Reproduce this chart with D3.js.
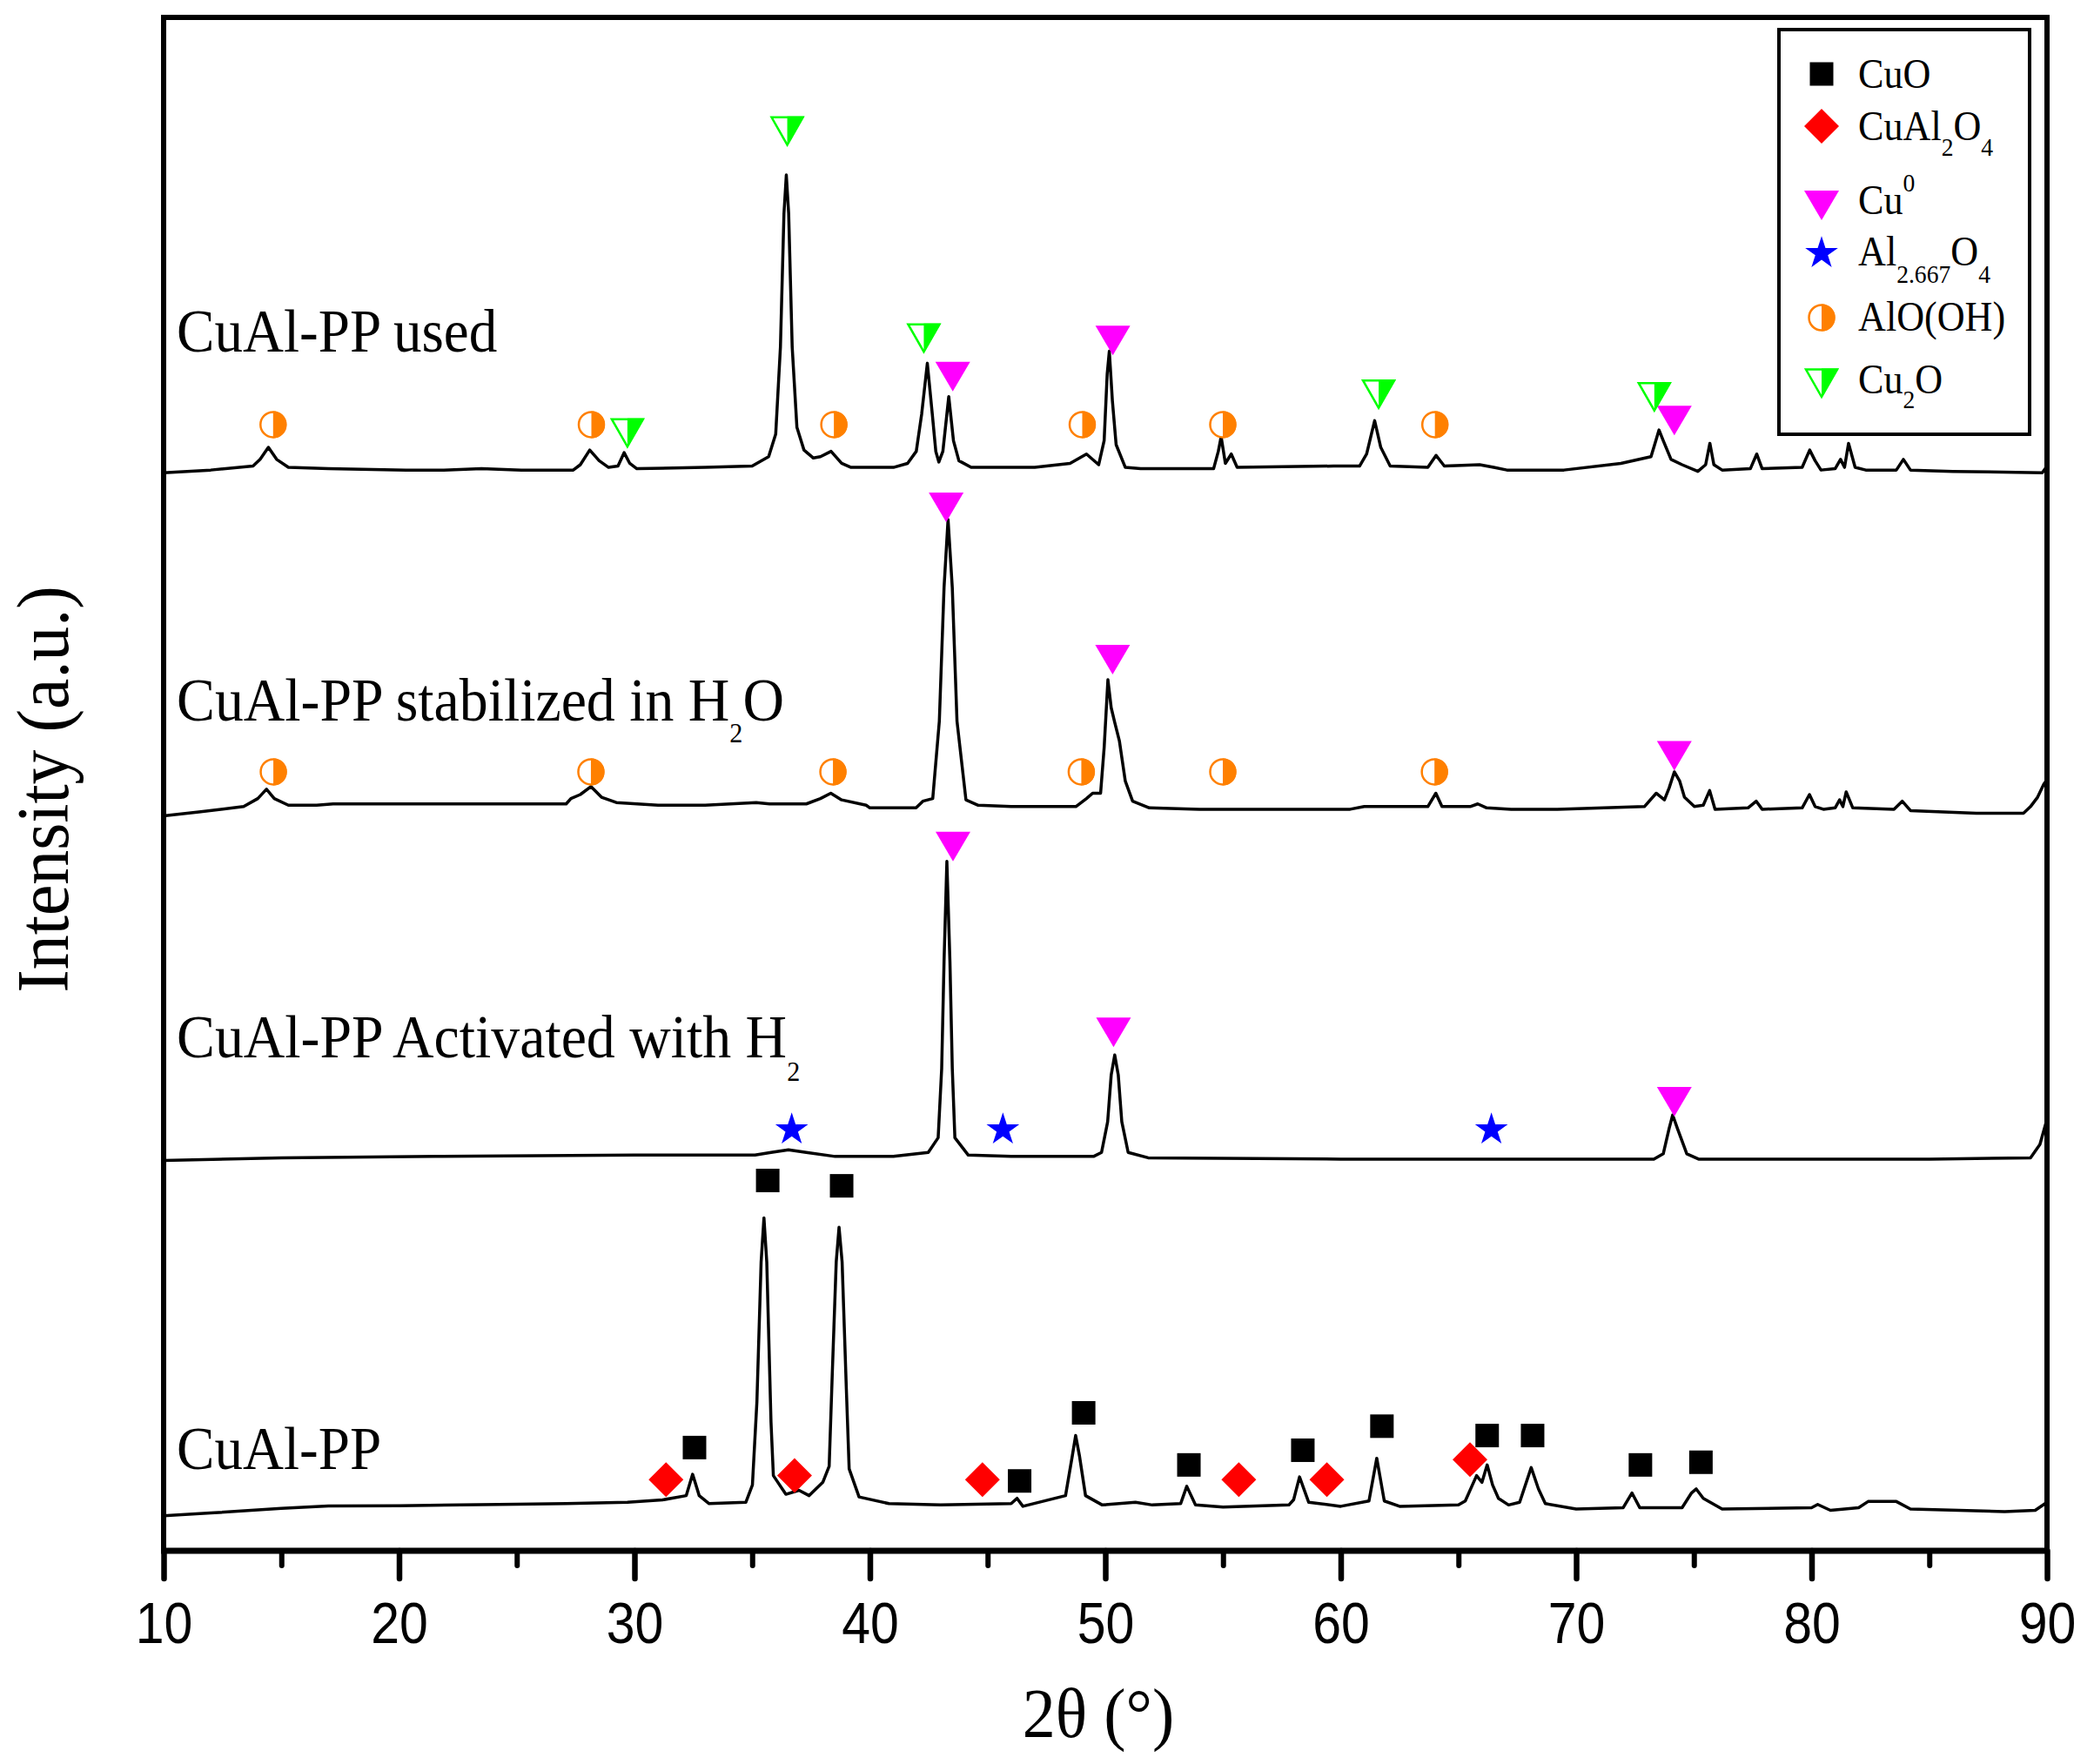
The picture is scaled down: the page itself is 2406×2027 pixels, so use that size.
<!DOCTYPE html>
<html>
<head>
<meta charset="utf-8">
<script src="https://cdn.jsdelivr.net/npm/d3@7"></script>
<style>
  body { margin: 0; background: #fff; }
</style>
</head>
<body>
<div id="chart"></div>
<script>
// ---- Data (2theta in degrees, intensity in a.u., curves already stacked) ----
const xTicks = [10, 20, 30, 40, 50, 60, 70, 80, 90]
const xMinorTicks = [15, 25, 35, 45, 55, 65, 75, 85]

const usedCurve = [
  [10.0,806],[12.0,808],[13.8,811],[14.1,816],[14.45,825],[14.8,816],[15.3,810],[17,809],[20.3,808],[21.9,808],
  [23.5,809],[25.2,808],[27.4,808],[27.7,812],[28.1,823],[28.5,815],[28.9,810],[29.3,811],[29.56,821],[29.8,813],
  [30.1,809],[33,810],[35.0,811],[35.7,818],[36.0,835],[36.2,900],[36.35,1000],[36.45,1029],[36.55,1000],[36.7,900],
  [36.9,840],[37.2,823],[37.6,817],[37.9,818],[38.35,822],[38.8,813],[39.2,810],[41.0,810],[41.6,813],[41.97,822],
  [42.2,850],[42.44,888],[42.65,850],[42.8,822],[42.93,814],[43.1,822],[43.35,863],[43.55,830],[43.78,815],[44.3,810],
  [47,810],[48.5,813],[49.2,820],[49.72,812],[49.95,830],[50.08,880],[50.17,897],[50.3,860],[50.46,827],[50.85,810],
  [51.5,809],[54.6,809],[54.8,822],[54.92,833],[55.1,813],[55.35,820],[55.6,810],[59.7,811],[60.8,811],[61.1,820],
  [61.44,845],[61.7,825],[62.1,811],[63.7,810],[64.05,819],[64.4,811],[65.9,812],[66.5,810],[67.06,808],[69.48,808],
  [71.9,813],[73.18,818],[73.35,828],[73.52,838],[73.7,830],[74.03,816],[74.5,812],[75.17,807],[75.5,812],[75.68,828],
  [75.85,812],[76.2,808],[77.4,809],[77.67,820],[77.9,809],[79.6,810],[79.92,823],[80.15,815],[80.4,808],[81.0,809],
  [81.23,816],[81.4,810],[81.57,828],[81.85,810],[82.3,808],[83.6,808],[83.9,816],[84.2,808],[86,807],[89.8,806],[90,811]
]

const stabilizedCurve = [
  [10.0,549],[11.5,552],[13.4,556],[14.0,562],[14.37,569],[14.7,562],[15.3,557],[16.5,557],[17.2,558],[27.1,558],
  [27.3,562],[27.7,565],[28.15,571],[28.6,563],[29.23,559],[31,557],[33,557],[35.17,559],[35.74,558],[37.3,558],
  [37.9,562],[38.34,566],[38.8,561],[39.84,557],[40.0,555],[41.96,555],[42.25,560],[42.67,562],[42.95,620],[43.15,720],
  [43.32,771],[43.5,720],[43.7,620],[44.08,561],[44.6,557],[46,556],[48.75,556],[49.2,562],[49.46,566],[49.8,566],
  [49.95,600],[50.11,651],[50.25,630],[50.4,619],[50.6,605],[50.85,575],[51.16,560],[51.87,555],[54,554],[57,554],
  [60.4,554],[61,556],[63.7,556],[64.04,566],[64.3,556],[65.5,556],[65.82,558],[66.2,555],[67.24,554],[69.2,554],
  [72.9,556],[73.4,566],[73.75,561],[73.95,570],[74.17,582],[74.4,575],[74.6,563],[75.02,556],[75.4,557],[75.67,568],
  [75.9,554],[77.3,555],[77.65,560],[77.9,554],[79.6,555],[79.91,565],[80.15,556],[80.5,554],[81.0,555],[81.19,561],
  [81.33,556],[81.47,567],[81.75,555],[83.5,554],[83.85,560],[84.2,553],[87,551],[89.0,551],[89.3,556],[89.6,563],
  [89.87,573],[90,576]
]

const activatedCurve = [
  [10,291],[15,293],[21.54,294],[30,295],[35.12,295],[35.8,297],[36.54,299],[37.3,297],[38.52,294],[41,294],
  [42.48,297],[42.9,308],[43.05,360],[43.15,440],[43.27,515],[43.4,440],[43.5,360],[43.61,308],[44.18,295],[46,294],
  [49.5,294],[49.84,297],[50.1,320],[50.25,355],[50.4,370],[50.55,355],[50.7,320],[50.97,297],[51.82,293],[60,292],
  [66,292],[73.3,292],[73.7,296],[73.95,315],[74.1,325],[74.3,315],[74.7,296],[75.2,292],[85,292],[89.3,293],
  [89.7,303],[90,322]
]

const freshCurve = [
  [10,25],[12,27],[15,30.5],[17,32.3],[20,32.5],[25,33.5],[27.1,34],[29.7,35],[31.19,36.8],[32.2,40],
  [32.47,56],[32.75,40],[33.17,34],[34.73,35],[35.01,48],[35.2,110],[35.38,215],[35.5,248],[35.62,215],[35.8,95],
  [35.9,55],[36.43,41],[36.99,44],[37.42,40],[38.0,50],[38.27,62],[38.4,130],[38.57,215],[38.69,241],[38.82,215],
  [39.0,120],[39.12,60],[39.54,39],[40.81,34],[43,33],[46.0,34],[46.25,38],[46.5,32],[48.31,40],[48.6,70],
  [48.74,85],[48.9,70],[49.16,40],[49.87,33],[51.28,35],[52,33],[53.2,34],[53.46,47],[53.83,33],[55,31.5],
  [57.8,33],[58.0,37],[58.25,54],[58.64,35],[60,32],[61.2,36],[61.53,68],[61.85,36],[62.5,32],[65.0,33],
  [65.29,36],[65.77,55],[66.0,50],[66.22,63],[66.45,48],[66.7,38],[67.13,33],[67.6,35],[68.09,61],[68.4,45],
  [68.69,34],[70,30],[72.0,31],[72.37,42],[72.7,31],[74.5,31],[74.9,42],[75.1,45],[75.4,38],[76.2,30],
  [80.0,31],[80.26,33.4],[80.8,29],[82.0,31],[82.4,35.6],[83.6,35.6],[84.2,30],[88.2,28],[89.5,29],[90,35]
]

// phase markers [2theta, intensity]
const cuoMarks = [[32.55,76],[35.66,276],[38.8,272],[46.36,51],[49.08,102],[53.55,63],[58.39,74],[61.75,92],[66.22,85],[68.15,85],[72.73,63],[75.3,65]]
const cuAl2O4Marks = [[31.34,52],[36.8,55],[44.78,52],[55.67,52],[59.41,52],[65.49,67]]
const cu0Marks = [[43.52,878],[50.32,905],[74.17,845],[43.24,780],[50.31,666],[74.17,594],[43.53,526],[50.35,387],[74.17,335]]
const al2667Marks = [[36.68,316],[45.65,316],[66.4,316]]
const aloohMarks = [[14.65,842],[28.17,842],[38.47,842],[49.02,842],[54.99,842],[64.0,842],
                    [14.66,582],[28.15,582],[38.43,582],[48.98,582],[54.99,582],[63.98,582]]
const cu2oMarks = [[29.7,836],[36.49,1062],[42.29,907],[61.61,865],[73.32,863]]

// ---- Canvas ----
const W = 2406, H = 2027
const plot = { left: 188, right: 2352, top: 20, bottom: 1782 }

const svg = d3.select('#chart')
  .append('svg')
  .attr('width', W)
  .attr('height', H)

const xScale = d3.scaleLinear().domain([10, 90]).range([plot.left, plot.right])
const yScale = d3.scaleLinear().domain([0, 1148]).range([1780, 18.4])

const serif = '"Liberation Serif", "Times New Roman", serif'
const sans = '"Liberation Sans", Arial, sans-serif'

// ---- Curves ----
const line = d3.line().x(d => xScale(d[0])).y(d => yScale(d[1]))
const curves = svg.append('g').attr('id', 'curves')
;[usedCurve, stabilizedCurve, activatedCurve, freshCurve].forEach(c => {
  curves.append('path')
    .datum(c)
    .attr('d', line)
    .attr('fill', 'none')
    .attr('stroke', '#000')
    .attr('stroke-width', 3.5)
    .attr('stroke-linejoin', 'round')
})

// ---- Marker shapes ----
const ORANGE = '#ff8000', GREEN = '#00ff00', MAGENTA = '#ff00ff', BLUE = '#0000ff', RED = '#ff0000'

const drawMark = {
  cuo: g => g.append('rect').attr('x', -13.5).attr('y', -13.5).attr('width', 27).attr('height', 27).attr('fill', '#000'),
  cuAl2O4: g => g.append('path').attr('d', 'M0,-20L20,0L0,20L-20,0Z').attr('fill', RED),
  cu0: g => g.append('path').attr('d', 'M-20,-17L20,-17L0,17Z').attr('fill', MAGENTA),
  al2667: g => g.append('path').attr('d', d3.symbol(d3.symbolStar).size(440)()).attr('transform', 'translate(0,3)').attr('fill', BLUE),
  alooh: g => {
    g.append('circle').attr('r', 14.5).attr('fill', '#fff').attr('stroke', ORANGE).attr('stroke-width', 2.5)
    g.append('path').attr('d', 'M0,-15.5A15.5,15.5 0 0,1 0,15.5Z').attr('fill', ORANGE)
  },
  cu2o: g => {
    g.append('path').attr('d', 'M-18,-15.5L18,-15.5L0,16Z').attr('fill', '#fff').attr('stroke', GREEN).attr('stroke-width', 2.5)
    g.append('path').attr('d', 'M0,-16.5L19.5,-16.5L0,16.5Z').attr('fill', GREEN)
  }
}

const marks = svg.append('g').attr('id', 'marks')
const phases = [
  ['cuo', cuoMarks], ['cuAl2O4', cuAl2O4Marks], ['cu0', cu0Marks],
  ['al2667', al2667Marks], ['alooh', aloohMarks], ['cu2o', cu2oMarks]
]
phases.forEach(([key, data]) => {
  data.forEach(d => {
    const g = marks.append('g').attr('transform', `translate(${xScale(d[0])},${yScale(d[1])})`)
    drawMark[key](g)
  })
})

// ---- Axis ----
const xAxis = d3.axisBottom(xScale).tickValues(xTicks).tickSize(32).tickPadding(26).tickFormat(d3.format('d'))
svg.append('g')
  .classed('x axis', true)
  .attr('transform', `translate(0,${plot.bottom})`)
  .call(xAxis)
  .call(g => g.select('.domain').remove())
  .call(g => g.selectAll('line').attr('stroke-width', 6.5).attr('stroke-linecap', 'round'))
  .call(g => g.selectAll('text')
    .attr('font-family', sans)
    .attr('font-size', 67)
    .attr('transform', 'scale(0.88,1)'))

const xMinor = d3.axisBottom(xScale).tickValues(xMinorTicks).tickSize(17).tickFormat('')
svg.append('g')
  .attr('transform', `translate(0,${plot.bottom})`)
  .call(xMinor)
  .call(g => g.select('.domain').remove())
  .call(g => g.selectAll('line').attr('stroke-width', 6).attr('stroke-linecap', 'round'))

// frame
svg.append('rect')
  .attr('x', plot.left).attr('y', plot.top)
  .attr('width', plot.right - plot.left).attr('height', plot.bottom - plot.top)
  .attr('fill', 'none').attr('stroke', '#000').attr('stroke-width', 6)
svg.append('line')
  .attr('x1', plot.left - 3).attr('x2', plot.right + 3)
  .attr('y1', plot.bottom).attr('y2', plot.bottom)
  .attr('stroke', '#000').attr('stroke-width', 7)

// ---- Text helper: text with tspans [str, size, dy] ----
function addText(parent, x, y, parts, sx, anchor) {
  const t = parent.append('text')
    .attr('transform', `translate(${x},${y}) scale(${sx},1)`)
    .attr('font-family', serif)
    .attr('text-anchor', anchor || 'start')
    .attr('fill', '#000')
  parts.forEach(p => {
    t.append('tspan').attr('font-size', p[1]).attr('dy', p[2] || 0).text(p[0])
  })
  return t
}

// axis titles
addText(svg, 1262, 1996, [['2θ (°)', 80]], 0.95, 'middle')
svg.append('text')
  .attr('transform', 'translate(78,907) rotate(-90) scale(0.95,1)')
  .attr('font-family', serif)
  .attr('font-size', 84)
  .attr('text-anchor', 'middle')
  .text('Intensity (a.u.)')

// curve labels
const labels = svg.append('g').attr('id', 'labels')
addText(labels, 203, 404, [['CuAl-PP used', 70]], 0.93)
addText(labels, 203, 828, [['CuAl-PP stabilized in H', 70], ['2', 32, 25], ['O', 70, -25]], 0.94)
addText(labels, 203, 1215, [['CuAl-PP Activated with H', 70], ['2', 32, 27]], 0.94)
addText(labels, 203, 1688, [['CuAl-PP', 70]], 0.93)

// ---- Legend ----
const legend = svg.append('g').attr('id', 'legend')
legend.append('rect')
  .attr('x', 2044).attr('y', 34).attr('width', 288).attr('height', 465)
  .attr('fill', '#fff').attr('stroke', '#000').attr('stroke-width', 4)

const legendRows = [
  ['cuo', 85, 101, [['CuO', 48]]],
  ['cuAl2O4', 145, 161, [['CuAl', 48], ['2', 30, 18], ['O', 48, -18], ['4', 30, 18]]],
  ['cu0', 236, 246, [['Cu', 48], ['0', 30, -26]]],
  ['al2667', 288, 305, [['Al', 48], ['2.667', 30, 20], ['O', 48, -20], ['4', 30, 20]]],
  ['alooh', 365, 380, [['AlO(OH)', 48]]],
  ['cu2o', 440, 452, [['Cu', 48], ['2', 30, 17], ['O', 48, -17]]]
]
legendRows.forEach(([key, my, ty, parts]) => {
  drawMark[key](legend.append('g').attr('transform', `translate(2093,${my})`))
  addText(legend, 2135, ty, parts, 0.92)
})
</script>
</body>
</html>
